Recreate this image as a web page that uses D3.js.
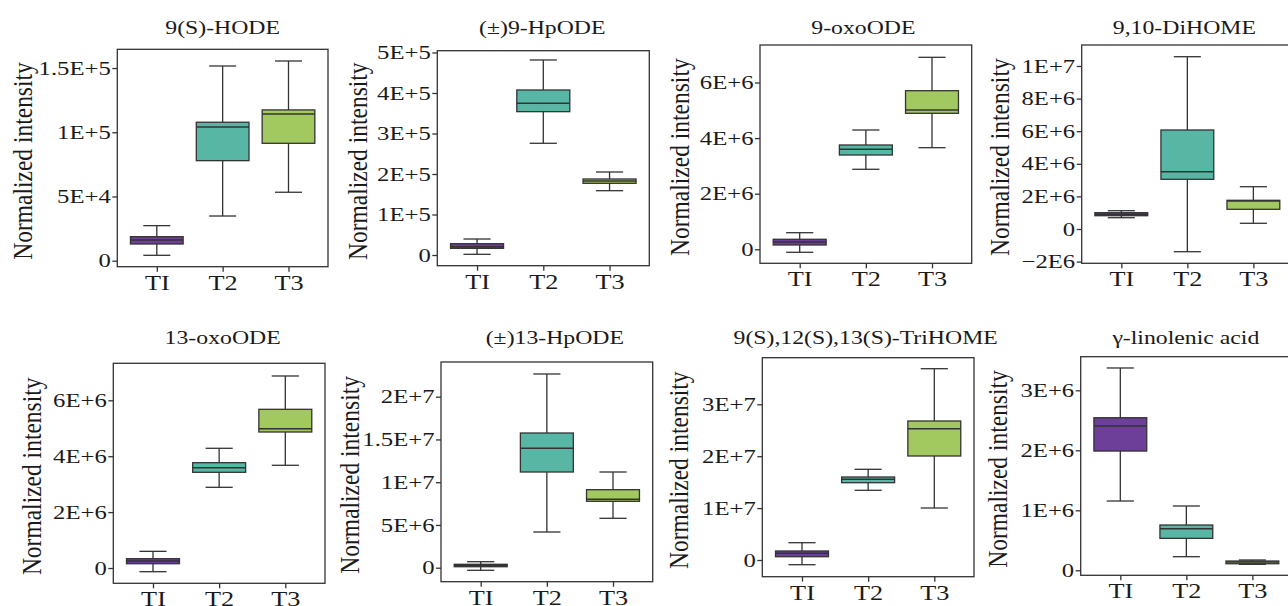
<!DOCTYPE html>
<html>
<head>
<meta charset="utf-8">
<script src="https://cdn.jsdelivr.net/npm/d3@7"></script>
<style>
  html, body { margin: 0; padding: 0; background: #fff; overflow: hidden; }
  svg { display: block; }
</style>
</head>
<body>
<svg id="chart" width="1288" height="606"></svg>
<script>
// ---------------- DATA ----------------
const titles = ["9(S)-HODE", "(±)9-HpODE", "9-oxoODE", "9,10-DiHOME",
                "13-oxoODE", "(±)13-HpODE", "9(S),12(S),13(S)-TriHOME", "γ-linolenic acid"];
const groups = ["TI", "T2", "T3"];

// per panel, per group [TI, T2, T3]
const whiskerLow = [
  [4200, 34800, 53300],
  [1700, 275800, 158800],
  [-108000, 2878000, 3655000],
  [693000, -1393000, 350000],
  [-132000, 2887000, 3675000],
  [-304000, 4175000, 5778000],
  [-906000, 13430000, 10019000],
  [1155000, 227000, 100000]
];
const q1 = [
  [13000, 77900, 91400],
  [16500, 353900, 177000],
  [155000, 3392000, 4892000],
  [816000, 3049000, 1209000],
  [154000, 3424000, 4866000],
  [117000, 11193000, 7766000],
  [636000, 14894000, 20039000],
  [1988000, 533000, 110000]
];
const median = [
  [16100, 104100, 114300],
  [20500, 374500, 182700],
  [263000, 3597000, 5011000],
  [902000, 3515000, 1720000],
  [250000, 3589000, 4984000],
  [281000, 13965000, 8000000],
  [1291000, 15549000, 25299000],
  [2405000, 693000, 138000]
];
const q3 = [
  [18700, 107800, 117400],
  [27900, 407400, 187700],
  [360000, 3752000, 5705000],
  [1000000, 6074000, 1761000],
  [333000, 3768000, 5678000],
  [398000, 15754000, 9123000],
  [1734000, 15992000, 26782000],
  [2543000, 755000, 155000]
];
const whiskerHigh = [
  [27300, 151600, 155500],
  [39500, 481500, 204900],
  [597000, 4291000, 6906000],
  [1123000, 10570000, 2595000],
  [597000, 4283000, 6870000],
  [702000, 22655000, 11193000],
  [3333000, 17476000, 36860000],
  [3372000, 1072000, 172000]
];

const yTicks = [
  [0, 5e4, 1e5, 1.5e5],
  [0, 1e5, 2e5, 3e5, 4e5, 5e5],
  [0, 2e6, 4e6, 6e6],
  [-2e6, 0, 2e6, 4e6, 6e6, 8e6, 1e7],
  [0, 2e6, 4e6, 6e6],
  [0, 5e6, 1e7, 1.5e7, 2e7],
  [0, 1e7, 2e7, 3e7],
  [0, 1e6, 2e6, 3e6]
];
const yTickLabels = [
  ["0", "5E+4", "1E+5", "1.5E+5"],
  ["0", "1E+5", "2E+5", "3E+5", "4E+5", "5E+5"],
  ["0", "2E+6", "4E+6", "6E+6"],
  ["\u22122E6", "0", "2E+6", "4E+6", "6E+6", "8E+6", "1E+7"],
  ["0", "2E+6", "4E+6", "6E+6"],
  ["0", "5E+6", "1E+7", "1.5E+7", "2E+7"],
  ["0", "1E+7", "2E+7", "3E+7"],
  ["0", "1E+6", "2E+6", "3E+6"]
];
const yDomains = [
  [-4670, 164600],
  [-26400, 504400],
  [-504000, 7349000],
  [-2104000, 11288000],
  [-547000, 7324000],
  [-1637000, 24058000],
  [-3218000, 38979000],
  [-83000, 3560000]
];
const yAxisTitle = "Normalized intensity";

// ---------------- LAYOUT ----------------
// [left, top, right, bottom, yLabelOffset, titleBaseline, titleDx]
const frames = [
  [117.3, 49.3, 328, 266.7, -85.5, 34, 0],
  [437.3, 50.7, 649.3, 265.7, -70, 34, -1],
  [760, 45, 971.7, 263.3, -71, 34, -2.5],
  [1081.7, 45, 1293, 263.3, -73, 34, -3],
  [113.3, 363.3, 325, 583.3, -72, 344, 3.5],
  [441, 362, 652.7, 581.7, -82, 344, 8],
  [762.3, 357.7, 974, 576.7, -74, 344, -2.5],
  [1080.7, 356.7, 1292, 575.3, -74, 344, -0.5]
];
const fills = ["#6E3F98", "#58B7A4", "#A2C95F"];
const ink = "#333333";
const textInk = "#1a1a1a";
const FONT = "'Liberation Serif', 'Times New Roman', serif";

const svg = d3.select("#chart").style("font-family", FONT);

titles.forEach((title, i) => {
  const [x0, y0, x1, y1, labelDx, titleY, titleDx] = frames[i];
  const g = svg.append("g");
  const y = d3.scaleLinear().domain(yDomains[i]).range([y1, y0]);
  const x = d3.scalePoint().domain(groups).range([x0, x1]).padding(0.6);
  const step = x.step();
  const bw = step * 0.8;
  const cap = step * 0.41;

  // frame
  g.append("rect")
    .attr("x", x0).attr("y", y0)
    .attr("width", x1 - x0).attr("height", y1 - y0)
    .attr("fill", "none").attr("stroke", ink).attr("stroke-width", 1.3);

  // y axis
  const ya = g.append("g").attr("transform", `translate(${x0},0)`)
    .call(d3.axisLeft(y).tickValues(yTicks[i])
      .tickFormat((d, j) => yTickLabels[i][j]).tickSize(5).tickSizeOuter(0));
  ya.select(".domain").remove();
  ya.selectAll(".tick line").attr("stroke", ink).attr("stroke-width", 1.3);
  ya.selectAll(".tick text")
    .attr("x", -6.5 / 1.3)
    .attr("transform", "scale(1.3,1)")
    .attr("fill", textInk)
    .style("font-size", "19px").style("font-family", FONT);

  // x axis
  const xa = g.append("g").attr("transform", `translate(0,${y1})`)
    .call(d3.axisBottom(x).tickSize(5).tickSizeOuter(0).tickPadding(3));
  xa.select(".domain").remove();
  xa.selectAll(".tick line").attr("stroke", ink).attr("stroke-width", 1.3);
  xa.selectAll(".tick text")
    .attr("transform", "scale(1.25,1)")
    .attr("fill", textInk)
    .style("font-size", "21px").style("font-family", FONT);

  // boxes
  groups.forEach((grp, j) => {
    const cx = x(grp);
    const bg = g.append("g");
    bg.append("line")
      .attr("x1", cx).attr("x2", cx)
      .attr("y1", y(whiskerLow[i][j])).attr("y2", y(whiskerHigh[i][j]))
      .attr("stroke", ink).attr("stroke-width", 1.3);
    [whiskerLow[i][j], whiskerHigh[i][j]].forEach(v => {
      bg.append("line")
        .attr("x1", cx - cap / 2).attr("x2", cx + cap / 2)
        .attr("y1", y(v)).attr("y2", y(v))
        .attr("stroke", ink).attr("stroke-width", 1.3);
    });
    bg.append("rect")
      .attr("x", cx - bw / 2).attr("width", bw)
      .attr("y", y(q3[i][j]))
      .attr("height", Math.max(1, y(q1[i][j]) - y(q3[i][j])))
      .attr("fill", fills[j]).attr("stroke", ink).attr("stroke-width", 1.3);
    bg.append("line")
      .attr("x1", cx - bw / 2).attr("x2", cx + bw / 2)
      .attr("y1", y(median[i][j])).attr("y2", y(median[i][j]))
      .attr("stroke", ink).attr("stroke-width", 1.5);
  });

  // title
  g.append("text")
    .attr("transform", `translate(${(x0 + x1) / 2 + titleDx},${titleY}) scale(1.25,1)`)
    .attr("text-anchor", "middle")
    .attr("fill", textInk)
    .style("font-size", "19px")
    .text(title);

  // y axis title
  g.append("text")
    .attr("transform", `translate(${x0 + labelDx},${(y0 + y1) / 2 + 3}) scale(1.2,1) rotate(-90)`)
    .attr("text-anchor", "middle")
    .attr("fill", textInk)
    .style("font-size", "23.5px")
    .text(yAxisTitle);
});
</script>
</body>
</html>
